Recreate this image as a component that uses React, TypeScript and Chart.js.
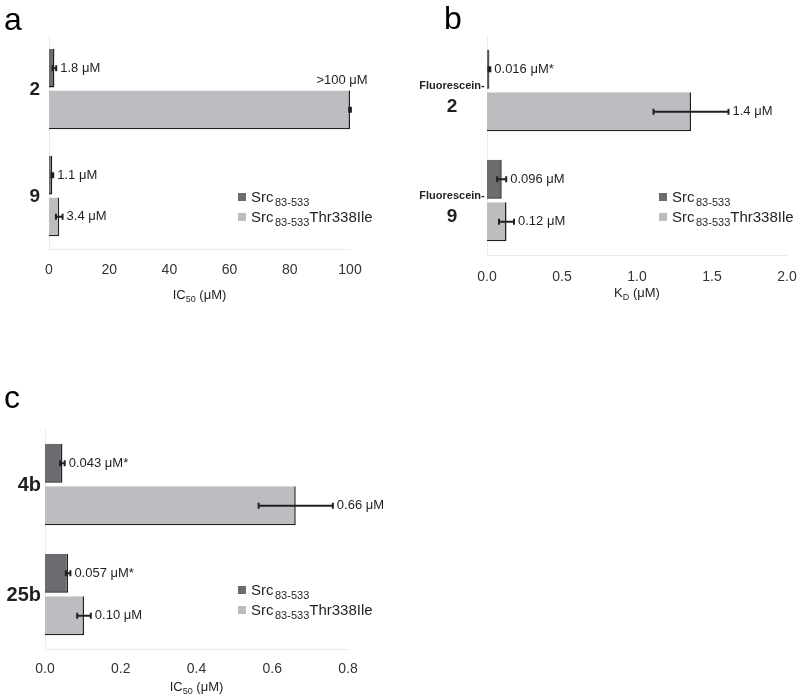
import React, { useEffect, useRef } from 'react';
import { Chart, registerables } from 'chart.js';

Chart.register(...registerables);

const FONT = "'Liberation Sans', Arial, Helvetica, sans-serif";
const DARK = '#6b6c6f';
const LIGHT = '#bcbdc0';
const INK = '#231f20';
const TICK = '#333333';
const FRAME = '#ececec';

// ---------- legend (shared) ----------
const seriesMain = ['Src', 'Src'];
const seriesSub = ['83-533', '83-533'];
const seriesSuffix = ['', 'Thr338Ile'];

// ---------- panel a ----------
const aCategories = ['2', '9'];
const aWild = [1.8, 1.1];
const aWildErr = [0.6, 0.3];
const aMutant = [100, 3.4];
const aMutantErr = [0.3, 1.1];
const aWildLabels = ['1.8 μM', '1.1 μM'];
const aMutantLabels = ['>100 μM', '3.4 μM'];
const aTicks = [0, 20, 40, 60, 80, 100];
const aTickLabels = ['0', '20', '40', '60', '80', '100'];

// ---------- panel b ----------
const bCategories = ['Fluorescein-2', 'Fluorescein-9'];
const bWild = [0.016, 0.098];
const bWildErr = [0.006, 0.03];
const bMutant = [1.36, 0.13];
const bMutantErr = [0.25, 0.05];
const bWildLabels = ['0.016 μM*', '0.096 μM'];
const bMutantLabels = ['1.4 μM', '0.12 μM'];
const bTicks = [0, 0.5, 1, 1.5, 2];
const bTickLabels = ['0.0', '0.5', '1.0', '1.5', '2.0'];

// ---------- panel c ----------
const cCategories = ['4b', '25b'];
const cWild = [0.046, 0.061];
const cWildErr = [0.006, 0.006];
const cMutant = [0.662, 0.103];
const cMutantErr = [0.098, 0.018];
const cWildLabels = ['0.043 μM*', '0.057 μM*'];
const cMutantLabels = ['0.66 μM', '0.10 μM'];
const cTicks = [0, 0.2, 0.4, 0.6, 0.8];
const cTickLabels = ['0.0', '0.2', '0.4', '0.6', '0.8'];

type Run = { t: string; size: number; bold?: boolean; dy?: number; gap?: number };

type Panel = {
  letter: string;
  left: number; top: number; width: number; height: number;
  area: { left: number; top: number; right: number; bottom: number };
  tickPad: number;
  categories: string[];
  values: number[][];
  errors: number[][];
  labels: string[][];
  ticks: number[];
  tickLabels: string[];
  title: Run[];
  titleY: number;
  letterPos: { x: number; y: number };
  legendPos: { x: number; y: number };
  cat: { mode: 'right' | 'stack'; x: number; size: number; dy: number; prefixSize?: number; prefixDy?: number };
  catPct: number;
  barPct: number;
};

const XH = 40;

const PANELS: Panel[] = [
  {
    letter: 'a', left: 0, top: 0, width: 400, height: 310,
    area: { left: 49, top: 35.5, right: 350, bottom: 249.5 }, tickPad: 12,
    categories: aCategories, values: [aWild, aMutant], errors: [aWildErr, aMutantErr],
    labels: [aWildLabels, aMutantLabels], ticks: aTicks, tickLabels: aTickLabels,
    title: [{ t: 'IC', size: 13 }, { t: '50', size: 9, dy: 3 }, { t: ' (μM)', size: 13 }], titleY: 295,
    letterPos: { x: 4, y: 30 }, legendPos: { x: 238, y: 193 },
    cat: { mode: 'right', x: 40, size: 19, dy: 1 }, catPct: 0.78, barPct: 0.93,
  },
  {
    letter: 'b', left: 400, top: 0, width: 400, height: 310,
    area: { left: 87, top: 35.5, right: 387, bottom: 255.5 }, tickPad: 13,
    categories: bCategories, values: [bWild, bMutant], errors: [bWildErr, bMutantErr],
    labels: [bWildLabels, bMutantLabels], ticks: bTicks, tickLabels: bTickLabels,
    title: [{ t: 'K', size: 13 }, { t: 'D', size: 9, dy: 3 }, { t: ' (μM)', size: 13 }], titleY: 293,
    letterPos: { x: 44, y: 29 }, legendPos: { x: 259, y: 193 },
    cat: { mode: 'stack', x: 52, size: 19, dy: 16, prefixSize: 11, prefixDy: -5 }, catPct: 0.77, barPct: 0.92,
  },
  {
    letter: 'c', left: 0, top: 380, width: 420, height: 319,
    area: { left: 45, top: 49.5, right: 348, bottom: 269.5 }, tickPad: 11,
    categories: cCategories, values: [cWild, cMutant], errors: [cWildErr, cMutantErr],
    labels: [cWildLabels, cMutantLabels], ticks: cTicks, tickLabels: cTickLabels,
    title: [{ t: 'IC', size: 13 }, { t: '50', size: 9, dy: 3 }, { t: ' (μM)', size: 13 }], titleY: 307,
    letterPos: { x: 4, y: 28 }, legendPos: { x: 238, y: 206 },
    cat: { mode: 'right', x: 41, size: 20, dy: 1 }, catPct: 0.77, barPct: 0.92,
  },
];

function fontOf(r: Run) {
  return `${r.bold ? 'bold ' : ''}${r.size}px ${FONT}`;
}

function drawRuns(ctx: CanvasRenderingContext2D, runs: Run[], x: number, y: number, align: 'left' | 'center') {
  ctx.textAlign = 'left';
  ctx.textBaseline = 'alphabetic';
  let total = 0;
  const widths = runs.map((r) => {
    ctx.font = fontOf(r);
    const w = ctx.measureText(r.t).width + (r.gap || 0);
    total += w;
    return w;
  });
  let cx = align === 'center' ? x - total / 2 : x;
  runs.forEach((r, i) => {
    ctx.font = fontOf(r);
    ctx.fillText(r.t, cx + (r.gap || 0), y + (r.dy || 0));
    cx += widths[i];
  });
}

function makeOverlay(p: Panel) {
  return {
    id: 'overlay',
    afterDatasetsDraw(chart: any) {
      const ctx: CanvasRenderingContext2D = chart.ctx;
      const xs = chart.scales.x;
      const ys = chart.scales.y;
      const area = chart.chartArea;
      ctx.save();
      ctx.fillStyle = INK;
      ctx.strokeStyle = INK;

      // error bars + value labels
      p.values.forEach((vals, di) => {
        const meta = chart.getDatasetMeta(di);
        vals.forEach((v, i) => {
          const bar: any = meta.data[i];
          const y = bar.y;
          const e = p.errors[di][i];
          const lo = xs.getPixelForValue(v - e);
          const hi = Math.min(xs.getPixelForValue(v + e), area.right + 1);
          ctx.lineWidth = 2;
          ctx.beginPath();
          ctx.moveTo(lo, y); ctx.lineTo(hi, y);
          ctx.moveTo(lo, y - 3); ctx.lineTo(lo, y + 3);
          ctx.moveTo(hi, y - 3); ctx.lineTo(hi, y + 3);
          ctx.stroke();
          ctx.font = `13px ${FONT}`;
          ctx.textBaseline = 'middle';
          const label = p.labels[di][i];
          if (v >= xs.max) {
            ctx.textAlign = 'center';
            ctx.fillText(label, xs.getPixelForValue(v) - 8, y - bar.height / 2 - 10);
          } else {
            ctx.textAlign = 'left';
            ctx.fillText(label, Math.max(hi, bar.x) + 4, y);
          }
        });
      });

      // category labels
      p.categories.forEach((c, i) => {
        const cy = ys.getPixelForValue(i);
        ctx.textBaseline = 'middle';
        if (p.cat.mode === 'right') {
          ctx.textAlign = 'right';
          ctx.font = `bold ${p.cat.size}px ${FONT}`;
          ctx.fillText(c, p.cat.x, cy + p.cat.dy);
        } else {
          const k = c.lastIndexOf('-') + 1;
          ctx.textAlign = 'center';
          ctx.font = `bold ${p.cat.prefixSize}px ${FONT}`;
          ctx.fillText(c.slice(0, k), p.cat.x, cy + (p.cat.prefixDy || 0));
          ctx.font = `bold ${p.cat.size}px ${FONT}`;
          ctx.fillText(c.slice(k), p.cat.x, cy + p.cat.dy);
        }
      });

      // legend
      const colors = [DARK, LIGHT];
      seriesMain.forEach((m, i) => {
        const lx = p.legendPos.x;
        const ly = p.legendPos.y + i * 20;
        ctx.fillStyle = colors[i];
        ctx.fillRect(lx, ly, 8, 8);
        ctx.fillStyle = INK;
        const runs: Run[] = [
          { t: m, size: 15 },
          { t: seriesSub[i], size: 11, dy: 4, gap: 1.5 },
        ];
        if (seriesSuffix[i]) runs.push({ t: seriesSuffix[i], size: 15 });
        drawRuns(ctx, runs, lx + 13, ly + 9, 'left');
      });

      // axis title
      ctx.fillStyle = INK;
      drawRuns(ctx, p.title, (area.left + area.right) / 2, p.titleY + 4, 'center');

      // panel letter
      ctx.font = `32px ${FONT}`;
      ctx.textAlign = 'left';
      ctx.textBaseline = 'alphabetic';
      ctx.fillStyle = '#000';
      ctx.fillText(p.letter, p.letterPos.x, p.letterPos.y);
      ctx.restore();
    },
  };
}

function PanelChart({ p }: { p: Panel }) {
  const ref = useRef<HTMLCanvasElement>(null);
  useEffect(() => {
    const canvas = ref.current!;
    const chart = new Chart(canvas, {
      type: 'bar',
      data: {
        labels: p.categories,
        datasets: p.values.map((vals, di) => ({
          label: seriesMain[di] + seriesSub[di] + seriesSuffix[di],
          data: vals,
          backgroundColor: di === 0 ? DARK : LIGHT,
          borderColor: INK,
          borderWidth: { top: 0, left: 0, right: 1.5, bottom: 1.5 },
          borderSkipped: false,
          categoryPercentage: p.catPct,
          barPercentage: p.barPct,
        })),
      },
      options: {
        indexAxis: 'y',
        responsive: false,
        animation: false,
        devicePixelRatio: 1,
        layout: {
          padding: {
            left: p.area.left,
            top: p.area.top,
            right: p.width - p.area.right,
            bottom: p.height - p.area.bottom - XH,
          },
        },
        plugins: { legend: { display: false }, tooltip: { enabled: false } },
        scales: {
          x: {
            type: 'linear',
            min: p.ticks[0],
            max: p.ticks[p.ticks.length - 1],
            afterBuildTicks: (s: any) => { s.ticks = p.ticks.map((v) => ({ value: v })); },
            afterFit: (s: any) => {
              s.height = XH;
              s.paddingLeft = 0;
              s.paddingRight = 0;
            },
            grid: { display: false, drawTicks: false },
            border: { display: true, color: FRAME, width: 1 },
            ticks: {
              padding: p.tickPad,
              color: TICK,
              font: { family: FONT, size: 14 },
              maxRotation: 0,
              autoSkip: false,
              callback: (_v: any, i: number) => p.tickLabels[i],
            },
          },
          y: {
            type: 'category',
            afterFit: (s: any) => {
              s.width = 0;
              s.paddingTop = 0;
              s.paddingBottom = 0;
            },
            grid: { display: false, drawTicks: false },
            border: { display: true, color: FRAME, width: 1 },
            ticks: { display: false },
          },
        },
      } as any,
      plugins: [makeOverlay(p)],
    });
    return () => chart.destroy();
  }, [p]);
  return (
    <canvas
      ref={ref}
      width={p.width}
      height={p.height}
      style={{ position: 'absolute', left: p.left, top: p.top, width: p.width, height: p.height }}
    />
  );
}

export default function App() {
  useEffect(() => {
    document.body.style.margin = '0';
  }, []);
  return (
    <div style={{ position: 'absolute', left: 0, top: 0, width: 800, height: 699, background: '#fff', overflow: 'hidden' }}>
      {PANELS.map((p) => (
        <PanelChart key={p.letter} p={p} />
      ))}
    </div>
  );
}
